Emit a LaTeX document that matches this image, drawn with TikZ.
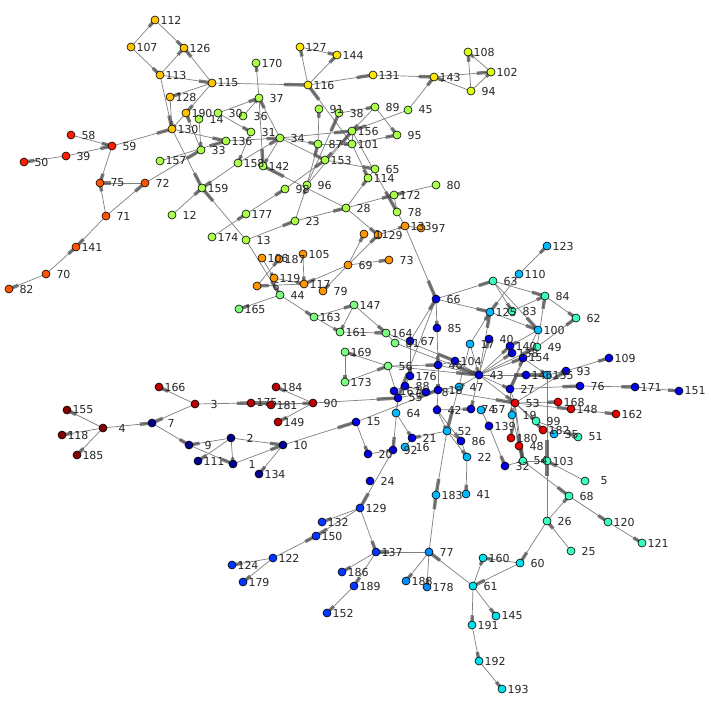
\documentclass[tikz,border=0pt]{standalone}
\usepackage{fontspec}
\setmainfont{DejaVu Sans}
\usetikzlibrary{calc}
\pgfdeclarelayer{bg}
\pgfdeclarelayer{fg}
\pgfsetlayers{bg,main,fg}
\definecolor{cOY}{RGB}{255,195,0}
\definecolor{cYe}{RGB}{255,230,0}
\definecolor{cYG}{RGB}{220,255,20}
\definecolor{cLG}{RGB}{170,255,75}
\definecolor{cOr}{RGB}{255,150,0}
\definecolor{cRO}{RGB}{255,85,0}
\definecolor{cRa}{RGB}{255,30,0}
\definecolor{cGr}{RGB}{125,255,125}
\definecolor{cDR}{RGB}{130,0,0}
\definecolor{cDS}{RGB}{185,0,0}
\definecolor{cNv}{RGB}{0,0,140}
\definecolor{cBl}{RGB}{0,0,225}
\definecolor{cMB}{RGB}{0,55,255}
\definecolor{cSB}{RGB}{0,140,255}
\definecolor{cLB}{RGB}{0,185,255}
\definecolor{cCy}{RGB}{0,225,240}
\definecolor{cAq}{RGB}{60,255,190}
\definecolor{cRe}{RGB}{230,0,0}
\tikzset{
  vtx/.style={circle,draw=black,line width=0.6pt,inner sep=0pt,minimum size=8pt},
  lbl/.style={inner sep=0pt,anchor=center,font=\fontsize{11}{13}\selectfont,text=black!85},
  eline/.style={draw=black!50,line width=0.7pt},
  ehead/.style={draw=black!70,line width=3.4pt,opacity=0.72,line cap=butt}
}
\newcommand\nd[4]{%
  \node[vtx,fill=#4] (n#1) at (#2,#3) {};%
  \begin{pgfonlayer}{fg}%
  \ifnum#1<10 \node[lbl] at (#2+19,#3) {#1};%
  \else\ifnum#1<100 \node[lbl] at (#2+17.5,#3) {#1};%
  \else \node[lbl] at (#2+16,#3) {#1};\fi\fi
  \end{pgfonlayer}}
\begin{document}
\begin{tikzpicture}[x=1pt,y=-1pt]
\useasboundingbox (0,0) rectangle (711,701);
\begin{pgfonlayer}{bg}
\fill[white] (0,0) rectangle (711,701);
\end{pgfonlayer}
% orange-yellow
\nd{112}{155}{20}{cOY}\nd{107}{131}{47}{cOY}\nd{126}{184}{48}{cOY}\nd{113}{160}{75}{cOY}
\nd{115}{212}{83}{cOY}\nd{128}{170}{97}{cOY}\nd{190}{186}{113}{cOY}\nd{130}{172}{129}{cOY}
% yellow
\nd{127}{300}{47}{cYe}\nd{144}{337}{55}{cYe}\nd{116}{308}{85}{cYe}\nd{131}{373}{75}{cYe}\nd{143}{434}{77}{cYe}
\nd{108}{468}{52}{cYG}\nd{102}{491}{72}{cYG}\nd{94}{471}{91}{cYG}
% light green
\nd{14}{199}{119}{cLG}\nd{30}{218}{113}{cLG}\nd{36}{243}{116}{cLG}\nd{31}{251}{132}{cLG}
\nd{34}{280}{138}{cLG}\nd{136}{226}{141}{cLG}\nd{33}{201}{150}{cLG}\nd{157}{160}{161}{cLG}
\nd{158}{238}{163}{cLG}\nd{142}{263}{166}{cLG}\nd{159}{202}{188}{cLG}\nd{12}{172}{215}{cLG}
\nd{174}{212}{237}{cLG}\nd{177}{246}{214}{cLG}\nd{13}{246}{240}{cLG}\nd{23}{295}{221}{cLG}
\nd{98}{285}{189}{cLG}\nd{96}{307}{185}{cLG}\nd{37}{259}{98}{cLG}\nd{170}{256}{63}{cLG}
\nd{91}{319}{109}{cLG}\nd{38}{339}{113}{cLG}\nd{89}{375}{107}{cLG}\nd{45}{408}{110}{cLG}
\nd{156}{352}{131}{cLG}\nd{95}{397}{135}{cLG}\nd{87}{318}{144}{cLG}\nd{101}{352}{144}{cLG}
\nd{153}{325}{160}{cLG}\nd{65}{375}{169}{cLG}\nd{114}{368}{178}{cLG}\nd{80}{436}{185}{cLG}
\nd{172}{394}{195}{cLG}\nd{28}{346}{208}{cLG}\nd{78}{397}{212}{cLG}
% red / orange-red
\nd{58}{71}{135}{cRa}\nd{59}{112}{146}{cRa}\nd{39}{66}{156}{cRa}\nd{50}{24}{162}{cRa}
\nd{75}{100}{183}{cRO}\nd{72}{145}{183}{cRO}\nd{71}{106}{216}{cRO}\nd{141}{76}{247}{cRO}
\nd{70}{46}{274}{cRO}\nd{82}{9}{289}{cRO}
% orange
\nd{133}{405}{226}{cOr}\nd{97}{421}{228}{cOr}\nd{11}{364}{234}{cOr}\nd{29}{378}{235}{cOr}
\nd{105}{303}{254}{cOr}\nd{106}{262}{258}{cOr}\nd{187}{279}{259}{cOr}\nd{69}{348}{265}{cOr}
\nd{73}{389}{260}{cOr}\nd{119}{274}{278}{cOr}\nd{117}{304}{284}{cOr}\nd{6}{257}{286}{cOr}
\nd{79}{323}{291}{cOr}
% green
\nd{44}{280}{295}{cGr}\nd{165}{239}{309}{cGr}\nd{147}{354}{305}{cGr}\nd{163}{314}{317}{cGr}
\nd{161}{340}{332}{cGr}\nd{164}{386}{333}{cGr}\nd{81}{395}{343}{cGr}\nd{169}{345}{352}{cGr}
\nd{56}{388}{366}{cGr}\nd{173}{345}{382}{cGr}
% dark reds
\nd{166}{159}{387}{cDS}\nd{3}{195}{404}{cDS}\nd{184}{276}{387}{cDS}\nd{175}{251}{403}{cDS}
\nd{181}{271}{405}{cDS}\nd{90}{313}{403}{cDS}\nd{149}{278}{422}{cDS}
\nd{155}{67}{410}{cDR}\nd{4}{103}{428}{cDR}\nd{118}{62}{435}{cDR}\nd{185}{77}{455}{cDR}
% navy
\nd{7}{152}{423}{cNv}\nd{9}{189}{445}{cNv}\nd{111}{198}{461}{cNv}\nd{2}{231}{438}{cNv}
\nd{1}{233}{464}{cNv}\nd{10}{283}{445}{cNv}\nd{134}{259}{474}{cNv}
% blue core
\nd{66}{436}{299}{cBl}\nd{85}{437}{328}{cBl}\nd{67}{410}{341}{cBl}\nd{176}{410}{376}{cBl}
\nd{88}{405}{386}{cBl}\nd{167}{394}{391}{cBl}\nd{8}{426}{392}{cBl}\nd{18}{438}{390}{cBl}
\nd{55}{398}{398}{cBl}\nd{42}{437}{410}{cBl}\nd{46}{438}{365}{cBl}\nd{104}{455}{361}{cBl}
\nd{40}{489}{339}{cBl}\nd{43}{479}{375}{cBl}\nd{74}{471}{409}{cBl}\nd{21}{412}{438}{cBl}
\nd{86}{461}{441}{cBl}\nd{92}{393}{450}{cBl}\nd{20}{368}{454}{cBl}\nd{139}{489}{426}{cBl}
\nd{15}{356}{422}{cBl}\nd{24}{370}{481}{cBl}\nd{140}{510}{346}{cBl}\nd{138}{512}{353}{cBl}
\nd{154}{523}{358}{cBl}\nd{146}{526}{375}{cBl}\nd{93}{566}{371}{cBl}\nd{109}{609}{358}{cBl}
\nd{76}{580}{386}{cBl}\nd{171}{635}{387}{cBl}\nd{151}{679}{391}{cBl}\nd{27}{510}{389}{cBl}
\nd{32}{505}{466}{cBl}
% light blue
\nd{64}{396}{413}{cLB}\nd{47}{459}{387}{cLB}\nd{17}{470}{344}{cLB}\nd{57}{481}{410}{cLB}
\nd{52}{447}{431}{cLB}\nd{16}{405}{447}{cLB}\nd{22}{467}{457}{cLB}\nd{183}{436}{495}{cLB}
\nd{41}{466}{494}{cLB}\nd{123}{547}{246}{cLB}\nd{110}{519}{274}{cLB}\nd{125}{490}{312}{cLB}
\nd{100}{538}{330}{cLB}\nd{135}{547}{375}{cLB}\nd{19}{512}{415}{cLB}\nd{35}{554}{434}{cLB}
% medium / sky blue
\nd{129}{360}{508}{cMB}\nd{132}{322}{522}{cMB}\nd{150}{316}{536}{cMB}\nd{122}{273}{558}{cMB}
\nd{124}{232}{565}{cMB}\nd{179}{243}{582}{cMB}\nd{137}{376}{552}{cMB}\nd{186}{342}{572}{cMB}
\nd{189}{354}{586}{cMB}\nd{152}{327}{613}{cMB}
\nd{77}{429}{552}{cSB}\nd{188}{406}{581}{cSB}\nd{178}{427}{587}{cSB}
% aquamarine
\nd{63}{493}{281}{cAq}\nd{84}{545}{296}{cAq}\nd{83}{512}{311}{cAq}\nd{62}{576}{318}{cAq}
\nd{49}{537}{347}{cAq}\nd{99}{536}{421}{cAq}\nd{51}{578}{437}{cAq}\nd{54}{523}{461}{cAq}
\nd{103}{547}{461}{cAq}\nd{5}{585}{481}{cAq}\nd{68}{569}{496}{cAq}\nd{26}{547}{521}{cAq}
\nd{120}{608}{522}{cAq}\nd{121}{642}{543}{cAq}\nd{25}{571}{551}{cAq}
% cyan
\nd{160}{483}{558}{cCy}\nd{60}{520}{563}{cCy}\nd{61}{473}{586}{cCy}\nd{145}{496}{616}{cCy}
\nd{191}{472}{625}{cCy}\nd{192}{479}{661}{cCy}\nd{193}{502}{689}{cCy}
% red
\nd{53}{515}{403}{cRe}\nd{168}{558}{402}{cRe}\nd{148}{571}{409}{cRe}\nd{162}{616}{414}{cRe}
\nd{182}{543}{430}{cRe}\nd{180}{511}{438}{cRe}\nd{48}{519}{446}{cRe}
\begin{pgfonlayer}{bg}
\def\edges{107/112,112/126,107/113,113/126,115/126,113/115,113/130,115/128,128/130,115/190,190/130,59/130,58/59,39/59,39/50,59/75,72/75,71/75,71/72,72/33,130/159,130/136,14/33,33/190,157/136,12/159,13/159,174/177,177/98,13/23,23/28,23/96,96/87,13/44,70/141,71/141,70/82,
37/170,30/37,36/37,34/37,30/31,31/158,136/34,158/34,34/142,37/142,158/159,34/87,34/156,34/153,98/153,96/38,96/156,87/91,87/101,101/116,115/116,116/127,116/144,127/144,116/131,131/143,143/102,94/143,94/108,102/108,94/102,45/143,45/156,89/156,89/95,38/89,156/101,101/95,101/114,156/78,65/114,153/65,156/153,28/114,28/172,80/172,28/142,28/29,78/133,97/133,29/133,133/66,172/78,
69/11,69/29,69/73,69/117,69/79,105/117,6/187,106/119,119/117,117/6,44/165,44/163,163/161,163/147,147/161,147/164,161/164,56/169,169/173,173/56,164/81,
66/85,66/125,66/63,63/84,63/83,110/125,110/123,83/84,125/100,84/62,49/84,49/62,17/125,43/125,63/100,
43/40,43/140,43/138,43/154,43/49,43/146,43/27,43/53,17/43,104/43,46/43,43/47,43/74,43/135,
27/154,27/53,27/76,100/27,27/19,100/140,
53/168,53/148,53/19,53/180,53/48,53/99,53/182,53/54,53/93,18/53,
148/162,76/171,171/151,93/109,135/93,146/135,154/135,135/103,99/182,182/35,99/51,19/54,48/54,32/54,54/103,5/103,26/103,
104/46,46/18,47/18,8/18,88/8,176/88,167/88,55/8,18/42,42/52,52/21,52/86,86/22,52/22,42/74,57/139,139/32,22/41,52/183,42/86,55/64,55/92,21/16,92/129,20/92,167/55,56/55,56/46,56/43,90/55,15/18,66/55,67/176,85/46,81/43,164/104,17/52,10/15,15/20,64/21,67/66,
90/184,90/175,181/90,90/149,3/175,3/166,3/7,4/7,4/155,4/118,4/185,7/9,2/9,9/1,2/111,2/1,2/10,1/10,10/134,
129/132,129/137,129/150,122/150,122/124,122/179,137/186,137/189,189/152,77/137,77/188,77/178,61/77,77/183,
54/68,68/120,120/121,26/68,25/26,26/60,60/61,60/160,61/160,61/145,61/191,191/192,192/193}
\foreach \a/\b in \edges { \draw[eline] (n\a.center) -- (n\b.center); }
\foreach \a/\b in \edges { \draw[ehead] ($(n\a.center)!0.75!(n\b.center)$) -- (n\b.center); }
\end{pgfonlayer}
\end{tikzpicture}
\end{document}
